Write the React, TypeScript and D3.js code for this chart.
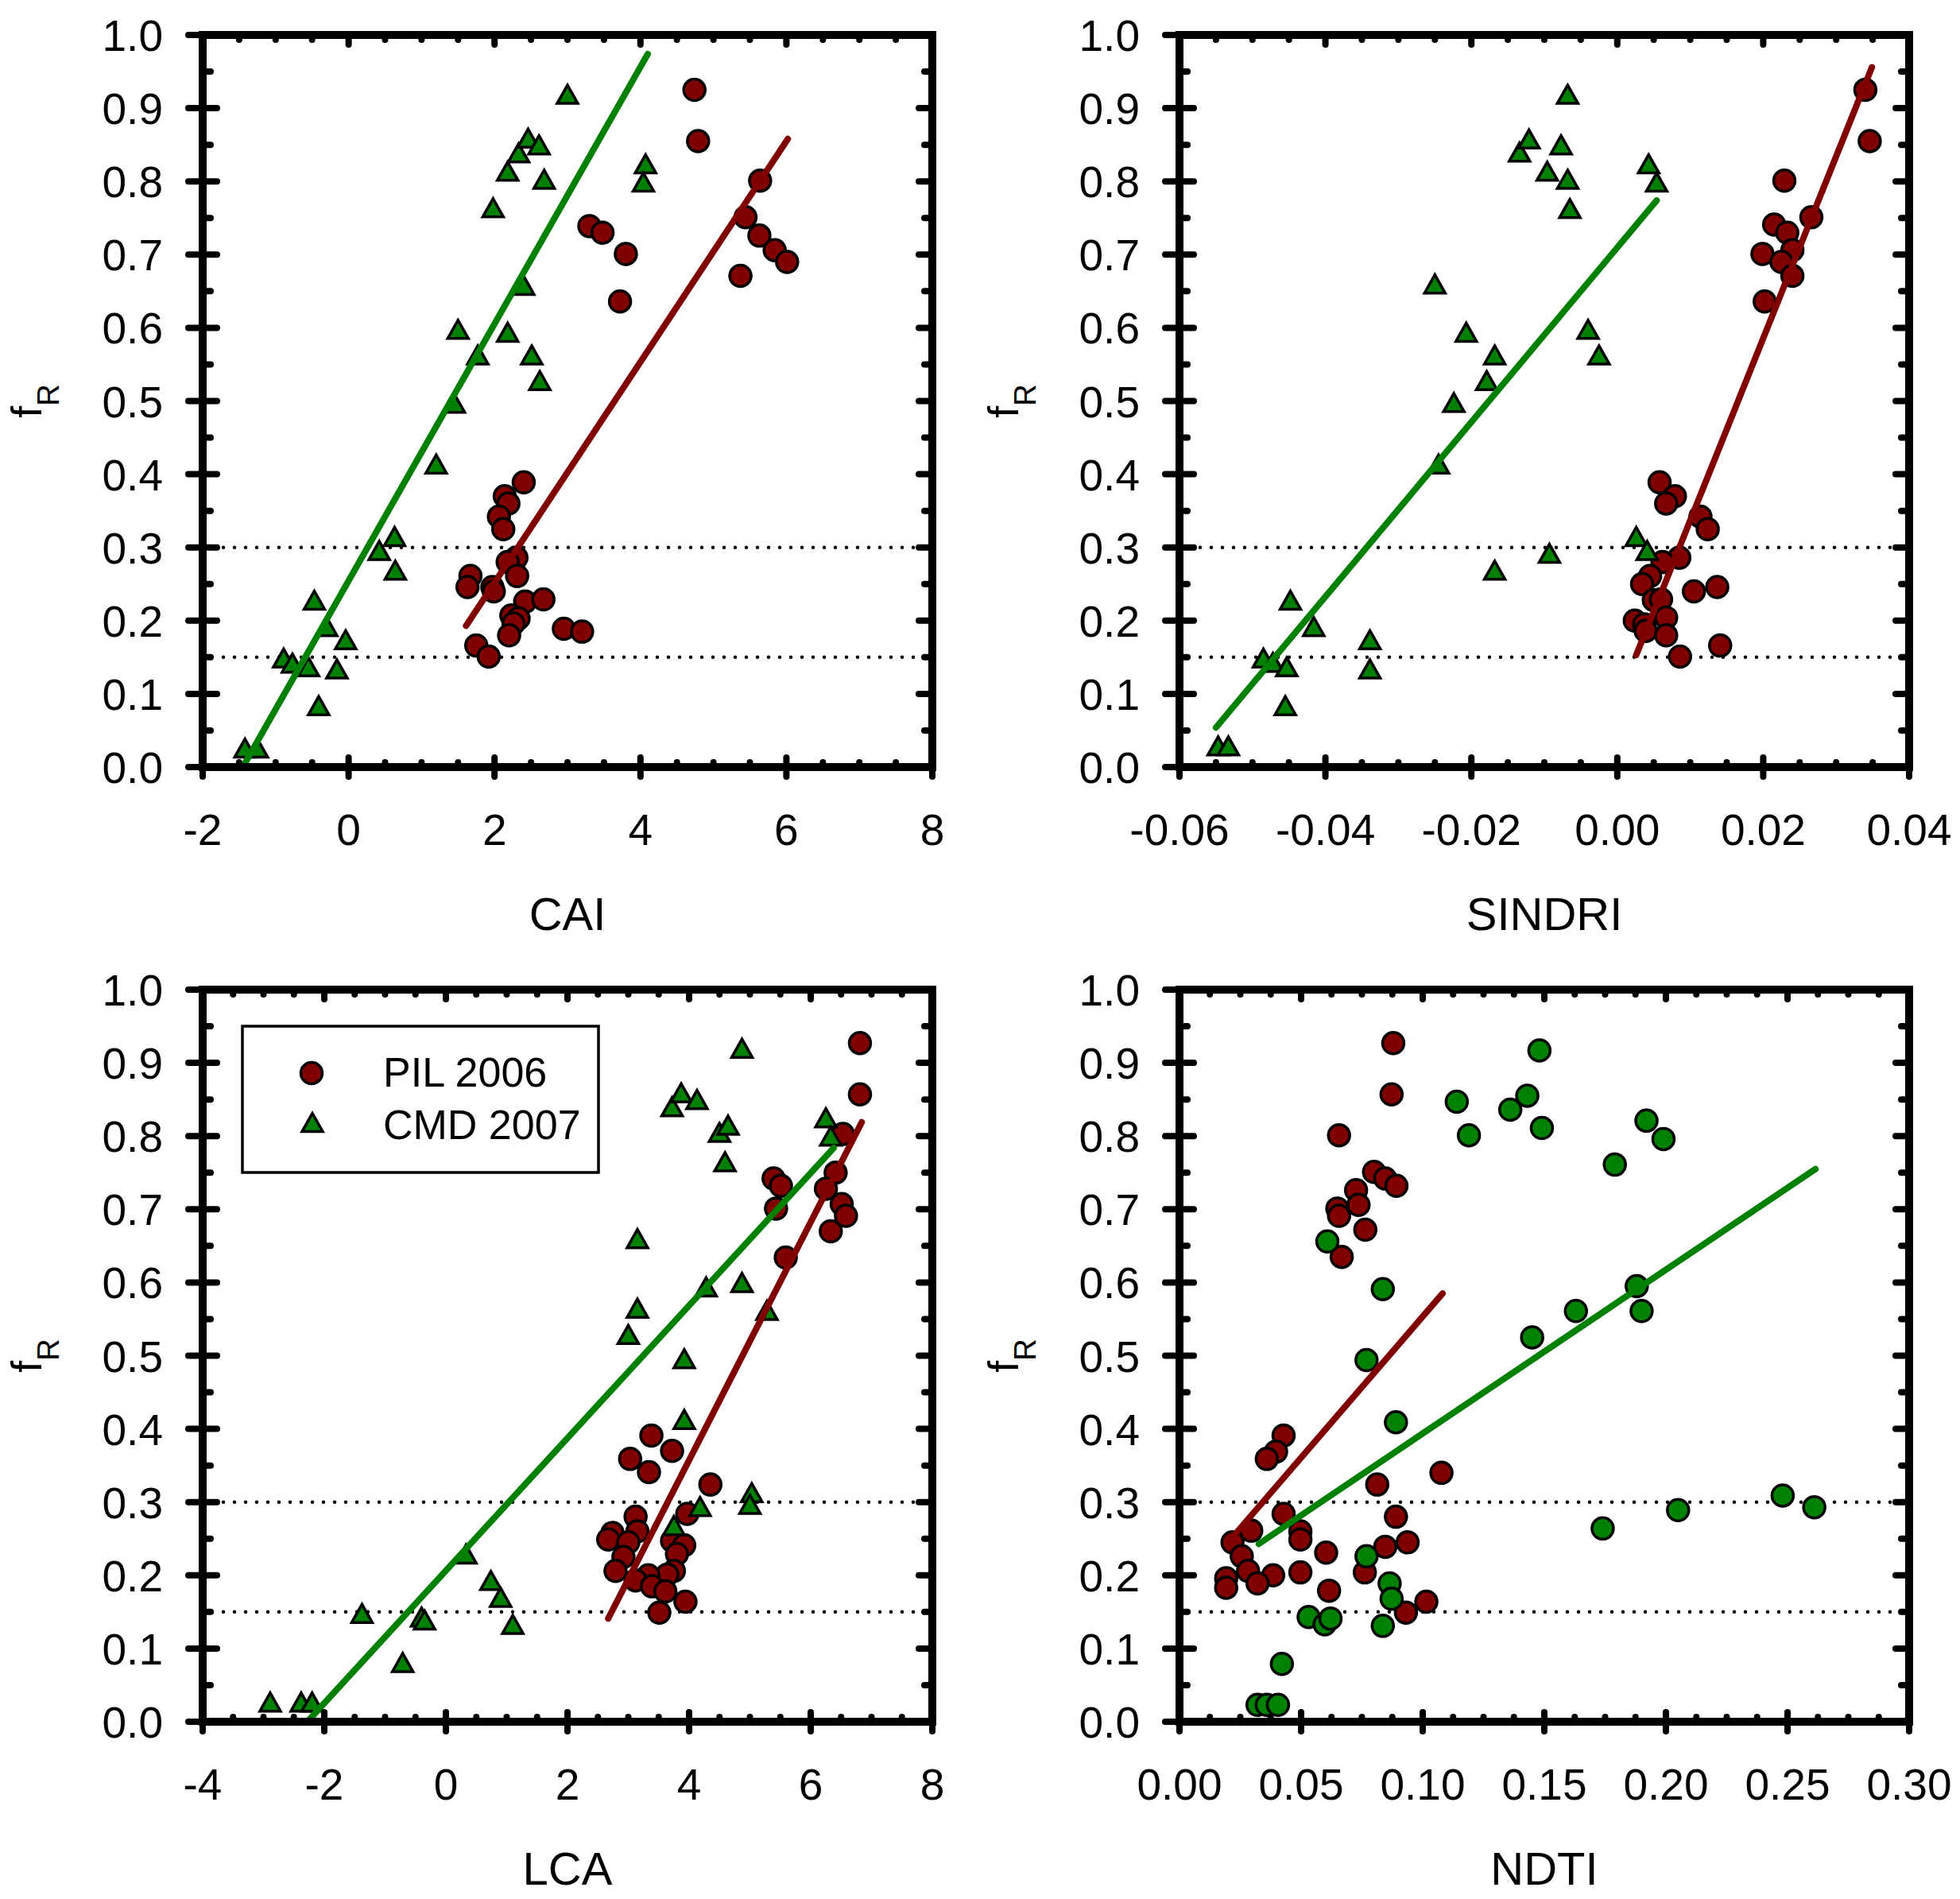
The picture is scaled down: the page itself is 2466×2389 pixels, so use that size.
import { useEffect, useRef } from 'react';
import * as d3 from 'd3';

const W = 2466;
const H = 2389;
const RED = '#800000';
const GREEN = '#008000';
const FONT = '"Liberation Sans", Arial, sans-serif';

const yTicks = [0, 0.1, 0.2, 0.3, 0.4, 0.5, 0.6, 0.7, 0.8, 0.9, 1.0];
const refLevels = [0.15, 0.3];
const legendLabels = ['PIL 2006', 'CMD 2007'];

const caiTicks = [-2, 0, 2, 4, 6, 8];
const sindriTicks = [-0.06, -0.04, -0.02, 0.0, 0.02, 0.04];
const lcaTicks = [-4, -2, 0, 2, 4, 6, 8];
const ndtiTicks = [0.0, 0.05, 0.1, 0.15, 0.2, 0.25, 0.3];

// CAI
const caiPil: [number, number][] = [
  [4.74, 0.925], [4.79, 0.855], [5.64, 0.801], [5.44, 0.751], [5.63, 0.726], [5.84, 0.706],
  [6.01, 0.69], [5.37, 0.671], [3.3, 0.739], [3.48, 0.73], [3.8, 0.701], [3.72, 0.636],
  [2.4, 0.389], [2.14, 0.37], [2.19, 0.36], [2.06, 0.342], [2.12, 0.325], [2.3, 0.286],
  [2.18, 0.28], [2.31, 0.261], [1.67, 0.261], [1.63, 0.246], [1.97, 0.246], [1.99, 0.24],
  [2.42, 0.226], [2.67, 0.229], [2.23, 0.207], [2.33, 0.203], [2.26, 0.196], [2.2, 0.18],
  [2.95, 0.189], [3.2, 0.185], [1.75, 0.166], [1.92, 0.151],
];
const caiCmd: [number, number][] = [
  [-1.42, 0.026], [-1.25, 0.026], [-0.89, 0.149], [-0.77, 0.142], [-0.55, 0.137], [-0.47, 0.228],
  [-0.41, 0.084], [-0.3, 0.192], [-0.16, 0.134], [-0.04, 0.174], [0.42, 0.296], [0.63, 0.315],
  [0.64, 0.269], [1.2, 0.414], [1.45, 0.497], [1.5, 0.598], [1.77, 0.563], [1.98, 0.764],
  [2.18, 0.594], [2.18, 0.814], [2.33, 0.839], [2.4, 0.658], [2.46, 0.859], [2.51, 0.563],
  [2.61, 0.85], [2.62, 0.528], [2.68, 0.803], [3.0, 0.919], [4.07, 0.824], [4.04, 0.799],
];
const caiPilFit: [number, number][] = [[1.61, 0.193], [6.02, 0.858]];
const caiCmdFit: [number, number][] = [[-1.45, 0.0], [4.1, 0.974]];

// SINDRI
const sindriPil: [number, number][] = [
  [0.034, 0.925], [0.0346, 0.855], [0.0229, 0.801], [0.0266, 0.751], [0.0215, 0.741], [0.0233, 0.73],
  [0.024, 0.706], [0.0199, 0.701], [0.0225, 0.69], [0.024, 0.671], [0.0202, 0.636], [0.0058, 0.389],
  [0.0079, 0.37], [0.0067, 0.36], [0.0114, 0.342], [0.0124, 0.325], [0.0085, 0.286], [0.0062, 0.28],
  [0.0045, 0.261], [0.0034, 0.25], [0.0105, 0.24], [0.0137, 0.246], [0.005, 0.228], [0.006, 0.229],
  [0.0024, 0.2], [0.0037, 0.195], [0.0067, 0.204], [0.0039, 0.186], [0.0067, 0.18], [0.0141, 0.166],
  [0.0086, 0.151],
];
const sindriCmd: [number, number][] = [
  [-0.0547, 0.029], [-0.0533, 0.029], [-0.0485, 0.149], [-0.0472, 0.143], [-0.0453, 0.137],
  [-0.0448, 0.228], [-0.0455, 0.084], [-0.0416, 0.192], [-0.0339, 0.174], [-0.0339, 0.134],
  [-0.0245, 0.414], [-0.025, 0.66], [-0.0224, 0.498], [-0.0207, 0.594], [-0.0179, 0.528],
  [-0.0168, 0.563], [-0.0168, 0.269], [-0.0134, 0.84], [-0.0121, 0.858], [-0.0096, 0.814],
  [-0.0093, 0.292], [-0.0077, 0.85], [-0.0068, 0.919], [-0.0068, 0.803], [-0.0065, 0.763],
  [-0.004, 0.598], [-0.0025, 0.563], [0.0026, 0.315], [0.0041, 0.296], [0.0043, 0.824],
  [0.0054, 0.799],
];
const sindriPilFit: [number, number][] = [[0.0026, 0.153], [0.0349, 0.956]];
const sindriCmdFit: [number, number][] = [[-0.055, 0.054], [0.0054, 0.774]];

// LCA
const lcaPil: [number, number][] = [
  [6.81, 0.927], [6.81, 0.857], [6.53, 0.803], [6.41, 0.75], [6.25, 0.728], [6.51, 0.707],
  [6.58, 0.691], [6.33, 0.67], [5.39, 0.742], [5.51, 0.732], [5.43, 0.701], [5.59, 0.634],
  [3.38, 0.391], [3.72, 0.37], [3.03, 0.359], [3.34, 0.341], [4.35, 0.324], [3.97, 0.284],
  [3.12, 0.28], [3.15, 0.26], [2.74, 0.258], [2.67, 0.249], [3.0, 0.245], [3.72, 0.247],
  [3.92, 0.241], [3.8, 0.229], [2.92, 0.225], [2.79, 0.206], [3.75, 0.206], [3.64, 0.201],
  [3.33, 0.2], [3.12, 0.193], [3.39, 0.185], [3.61, 0.178], [3.94, 0.164], [3.51, 0.149],
];
const lcaCmd: [number, number][] = [
  [-2.89, 0.027], [-2.38, 0.027], [-2.2, 0.027], [-1.38, 0.148], [-0.71, 0.081], [-0.4, 0.143],
  [-0.35, 0.139], [0.33, 0.229], [0.74, 0.193], [0.9, 0.17], [1.1, 0.133], [3.0, 0.529],
  [3.15, 0.66], [3.15, 0.565], [3.72, 0.84], [3.87, 0.859], [4.13, 0.85], [3.75, 0.268],
  [3.92, 0.496], [3.92, 0.413], [4.18, 0.294], [4.28, 0.594], [4.5, 0.805], [4.64, 0.815],
  [4.59, 0.765], [4.87, 0.92], [4.87, 0.6], [5.03, 0.313], [5.0, 0.297], [5.28, 0.562],
  [6.25, 0.825], [6.33, 0.8],
];
const lcaPilFit: [number, number][] = [[2.67, 0.141], [6.84, 0.819]];
const lcaCmdFit: [number, number][] = [[-2.28, 0.0], [6.38, 0.784]];

// NDTI
const ndtiPil: [number, number][] = [
  [0.0879, 0.927], [0.0872, 0.857], [0.0656, 0.801], [0.08, 0.751], [0.0846, 0.742], [0.0892, 0.732],
  [0.0726, 0.726], [0.0736, 0.706], [0.0649, 0.701], [0.0656, 0.691], [0.0764, 0.672], [0.0667, 0.635],
  [0.0428, 0.391], [0.0397, 0.369], [0.0359, 0.359], [0.1077, 0.34], [0.0813, 0.324], [0.0428, 0.284],
  [0.089, 0.28], [0.0295, 0.261], [0.0497, 0.26], [0.0497, 0.249], [0.0938, 0.245], [0.0846, 0.239],
  [0.0218, 0.245], [0.0256, 0.226], [0.0603, 0.231], [0.0282, 0.206], [0.0497, 0.204], [0.0762, 0.204],
  [0.0385, 0.2], [0.0192, 0.196], [0.0192, 0.183], [0.0321, 0.189], [0.0615, 0.179], [0.1015, 0.164],
  [0.0931, 0.149],
];
const ndtiCmd: [number, number][] = [
  [0.148, 0.917], [0.114, 0.847], [0.143, 0.855], [0.136, 0.836], [0.119, 0.801], [0.149, 0.811],
  [0.192, 0.821], [0.199, 0.796], [0.179, 0.761], [0.0608, 0.656], [0.0836, 0.591], [0.0769, 0.494],
  [0.163, 0.561], [0.145, 0.525], [0.188, 0.595], [0.19, 0.561], [0.089, 0.409], [0.174, 0.264],
  [0.205, 0.289], [0.248, 0.309], [0.261, 0.293], [0.0769, 0.226], [0.0864, 0.189], [0.0872, 0.168],
  [0.0531, 0.143], [0.0597, 0.133], [0.0621, 0.141], [0.0836, 0.131], [0.0421, 0.079], [0.0321, 0.023],
  [0.0359, 0.023], [0.0405, 0.023],
];
const ndtiPilFit: [number, number][] = [[0.0205, 0.247], [0.1082, 0.585]];
const ndtiCmdFit: [number, number][] = [[0.0326, 0.243], [0.2615, 0.755]];

interface Panel {
  title: string;
  ticks: number[];
  fmt: (d: number) => string;
  left: number;
  top: number;
  pil: [number, number][];
  cmd: [number, number][];
  pilFit: [number, number][];
  cmdFit: [number, number][];
  cmdShape: 'triangle' | 'circle';
  legend?: boolean;
}

const intFmt = (d: number) => String(d);
const dec2 = (d: number) => d.toFixed(2);

const panels: Panel[] = [
  { title: 'CAI', ticks: caiTicks, fmt: intFmt, left: 255, top: 44, pil: caiPil, cmd: caiCmd, pilFit: caiPilFit, cmdFit: caiCmdFit, cmdShape: 'triangle' },
  { title: 'SINDRI', ticks: sindriTicks, fmt: dec2, left: 1484, top: 44, pil: sindriPil, cmd: sindriCmd, pilFit: sindriPilFit, cmdFit: sindriCmdFit, cmdShape: 'triangle' },
  { title: 'LCA', ticks: lcaTicks, fmt: intFmt, left: 255, top: 1245, pil: lcaPil, cmd: lcaCmd, pilFit: lcaPilFit, cmdFit: lcaCmdFit, cmdShape: 'triangle', legend: true },
  { title: 'NDTI', ticks: ndtiTicks, fmt: dec2, left: 1484, top: 1245, pil: ndtiPil, cmd: ndtiCmd, pilFit: ndtiPilFit, cmdFit: ndtiCmdFit, cmdShape: 'circle' },
];

const PW = 918;
const PH = 921;
const R = 13.5;
const TRI_S = 26;
const TRI_H = 23;
const trianglePath = `M0,${-TRI_H / 2}L${TRI_S / 2},${TRI_H / 2}L${-TRI_S / 2},${TRI_H / 2}Z`;

function drawPanel(svg: d3.Selection<SVGSVGElement, unknown, null, undefined>, p: Panel) {
  const x = d3.scaleLinear()
    .domain([p.ticks[0], p.ticks[p.ticks.length - 1]])
    .range([p.left, p.left + PW]);
  const y = d3.scaleLinear().domain([0, 1]).range([p.top + PH, p.top]);
  const right = p.left + PW;
  const bottom = p.top + PH;

  const g = svg.append('g');

  // dotted reference lines
  g.selectAll('line.ref')
    .data(refLevels)
    .join('line')
    .attr('class', 'ref')
    .attr('x1', p.left + 12)
    .attr('x2', right - 8)
    .attr('y1', d => y(d))
    .attr('y2', d => y(d))
    .attr('stroke', '#000')
    .attr('stroke-width', 4.5)
    .attr('stroke-linecap', 'round')
    .attr('stroke-dasharray', '0 14');

  // PIL 2006 circles
  g.selectAll('circle.pil')
    .data(p.pil)
    .join('circle')
    .attr('class', 'pil')
    .attr('cx', d => x(d[0]))
    .attr('cy', d => y(d[1]))
    .attr('r', R)
    .attr('fill', RED)
    .attr('stroke', '#000')
    .attr('stroke-width', 3.5);

  // CMD 2007
  if (p.cmdShape === 'circle') {
    g.selectAll('circle.cmd')
      .data(p.cmd)
      .join('circle')
      .attr('class', 'cmd')
      .attr('cx', d => x(d[0]))
      .attr('cy', d => y(d[1]))
      .attr('r', R)
      .attr('fill', GREEN)
      .attr('stroke', '#000')
      .attr('stroke-width', 3.5);
  } else {
    g.selectAll('path.cmd')
      .data(p.cmd)
      .join('path')
      .attr('class', 'cmd')
      .attr('d', trianglePath)
      .attr('transform', d => `translate(${x(d[0])},${y(d[1])})`)
      .attr('fill', GREEN)
      .attr('stroke', '#000')
      .attr('stroke-width', 3.5)
      .attr('stroke-linejoin', 'miter');
  }

  // fitted lines
  const line = d3.line<[number, number]>().x(d => x(d[0])).y(d => y(d[1]));
  g.append('path').attr('d', line(p.pilFit)).attr('stroke', RED).attr('stroke-width', 8)
    .attr('fill', 'none').attr('stroke-linecap', 'round');
  g.append('path').attr('d', line(p.cmdFit)).attr('stroke', GREEN).attr('stroke-width', 8)
    .attr('fill', 'none').attr('stroke-linecap', 'round');

  // frame
  g.append('rect')
    .attr('x', p.left).attr('y', p.top).attr('width', PW).attr('height', PH)
    .attr('fill', 'none').attr('stroke', '#000').attr('stroke-width', 10);

  const tickG = g.append('g').attr('stroke', '#000').attr('stroke-width', 8).attr('stroke-linecap', 'round');

  // y ticks
  yTicks.forEach(v => {
    tickG.append('line').attr('x1', p.left - 18).attr('x2', p.left + 18).attr('y1', y(v)).attr('y2', y(v));
    tickG.append('line').attr('x1', right - 17).attr('x2', right).attr('y1', y(v)).attr('y2', y(v));
  });
  const yMinor = yTicks.slice(0, -1).map((v, i) => (v + yTicks[i + 1]) / 2);
  yMinor.forEach(v => {
    tickG.append('line').attr('x1', p.left).attr('x2', p.left + 10).attr('y1', y(v)).attr('y2', y(v));
    tickG.append('line').attr('x1', right - 10).attr('x2', right).attr('y1', y(v)).attr('y2', y(v));
  });

  // x ticks
  p.ticks.forEach(v => {
    tickG.append('line').attr('x1', x(v)).attr('x2', x(v)).attr('y1', bottom - 12).attr('y2', bottom + 12);
    tickG.append('line').attr('x1', x(v)).attr('x2', x(v)).attr('y1', p.top).attr('y2', p.top + 12);
  });
  const xMinor: number[] = [];
  p.ticks.slice(0, -1).forEach((v, i) => {
    const step = (p.ticks[i + 1] - v) / 4;
    for (let k = 1; k < 4; k++) xMinor.push(v + step * k);
  });
  xMinor.forEach(v => {
    tickG.append('line').attr('x1', x(v)).attr('x2', x(v)).attr('y1', bottom - 6).attr('y2', bottom);
    tickG.append('line').attr('x1', x(v)).attr('x2', x(v)).attr('y1', p.top).attr('y2', p.top + 6);
  });

  // tick labels
  g.selectAll('text.ylab')
    .data(yTicks)
    .join('text')
    .attr('class', 'ylab')
    .attr('x', p.left - 50)
    .attr('y', d => y(d) + 20)
    .attr('text-anchor', 'end')
    .attr('font-family', FONT)
    .attr('font-size', 55)
    .text(d => d.toFixed(1));

  g.selectAll('text.xlab')
    .data(p.ticks)
    .join('text')
    .attr('class', 'xlab')
    .attr('x', d => x(d))
    .attr('y', bottom + 98)
    .attr('text-anchor', 'middle')
    .attr('font-family', FONT)
    .attr('font-size', 55)
    .text(d => p.fmt(d));

  // axis titles
  g.append('text')
    .attr('x', p.left + PW / 2)
    .attr('y', bottom + 205)
    .attr('text-anchor', 'middle')
    .attr('font-family', FONT)
    .attr('font-size', 58)
    .text(p.title);

  const yt = g.append('text')
    .attr('transform', `translate(${p.left - 203},${p.top + PH / 2}) rotate(-90)`)
    .attr('text-anchor', 'middle')
    .attr('font-family', FONT)
    .attr('font-size', 54);
  yt.append('tspan').text('f');
  yt.append('tspan').attr('font-size', 38).attr('dy', 22).text('R');

  if (p.legend) {
    const lg = g.append('g').attr('transform', `translate(${p.left + 50},${p.top + 46})`);
    lg.append('rect').attr('width', 448).attr('height', 184)
      .attr('fill', 'white').attr('stroke', '#000').attr('stroke-width', 3.5);
    lg.append('circle').attr('cx', 87).attr('cy', 59).attr('r', R)
      .attr('fill', RED).attr('stroke', '#000').attr('stroke-width', 3.5);
    lg.append('path').attr('d', trianglePath).attr('transform', 'translate(88,121)')
      .attr('fill', GREEN).attr('stroke', '#000').attr('stroke-width', 3.5);
    lg.selectAll('text')
      .data(legendLabels)
      .join('text')
      .attr('x', 177)
      .attr('y', (_, i) => 76 + i * 66)
      .attr('font-family', FONT)
      .attr('font-size', 52)
      .text(d => d);
  }
}

export default function App() {
  const ref = useRef<SVGSVGElement>(null);

  useEffect(() => {
    if (!ref.current) return;
    const svg = d3.select(ref.current);
    svg.selectAll('*').remove();
    svg.append('rect').attr('width', W).attr('height', H).attr('fill', 'white');
    panels.forEach(p => drawPanel(svg, p));
  }, []);

  return (
    <svg
      ref={ref}
      width={W}
      height={H}
      style={{ position: 'absolute', left: 0, top: 0, display: 'block' }}
    />
  );
}
